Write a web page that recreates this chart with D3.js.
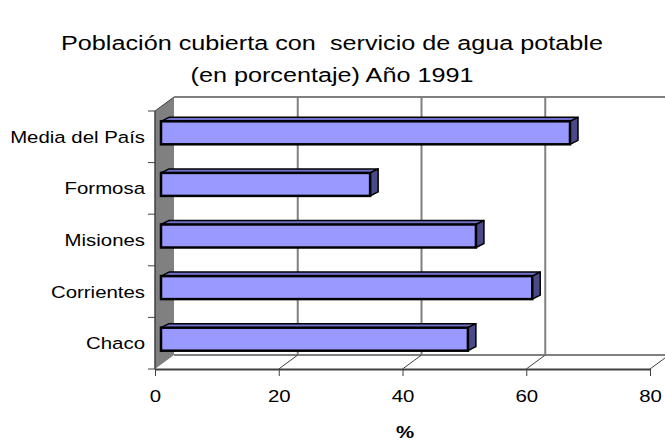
<!DOCTYPE html>
<html lang="es">
  <head>
    <meta charset="utf-8">
    <title>Agua potable 1991</title>
    <style>
      body { margin: 0; background: #fff; }
      text { font-family: Arial, "Liberation Sans", sans-serif; fill: #000; }
    </style>
  </head>
  <body>
  <script src="https://d3js.org/d3.v7.min.js"></script>

  <svg width="665" height="447"></svg>

  <script type="text/javascript">

    // data
    var categories = ["Media del País", "Formosa", "Misiones", "Corrientes", "Chaco"];
    var values = [66.1, 33.8, 50.9, 60.0, 49.6];
    var xTicks = [0, 20, 40, 60, 80];
    var titleLines = ["Población cubierta con  servicio de agua potable", "(en porcentaje) Año 1991"];
    var xLabel = "%";

    var svg = d3.select("svg");

    // the source picture is a bit wider than tall, text looks stretched
    var stretch = 1.2;

    // front plane of the 3d box
    var pLeft = 155, pRight = 650, pTop = 111, pBottom = 369;
    var depth = [19, -14];          // wall depth
    var barOff = [6, -4];           // bar front face offset from front plane
    var barDepth = [8, -4];         // bar thickness in depth

    var x = d3.scaleLinear().domain([0, 80]).range([pLeft, pRight]);
    var y = d3.scaleBand().domain(categories).range([pTop, pBottom]);

    // title
    svg.append("g").selectAll("text")
      .data(titleLines)
      .enter().append("text")
      .attr("transform", function(d, i) {
        return "translate(332," + (50 + i * 32) + ") scale(" + stretch + ",1)";
      })
      .attr("text-anchor", "middle")
      .style("font-size", "21px")
      .style("white-space", "pre")
      .text(function(d) { return d; });

    var g = svg.append("g");

    // left wall (grey)
    g.append("path")
      .attr("d", "M" + pLeft + "," + pTop +
                 "L" + (pLeft + depth[0]) + "," + (pTop + depth[1]) +
                 "L" + (pLeft + depth[0]) + "," + (pBottom + depth[1]) +
                 "L" + pLeft + "," + pBottom + "Z")
      .attr("fill", "#808080");

    // back wall top edge
    g.append("line")
      .attr("x1", pLeft + depth[0]).attr("y1", pTop + depth[1])
      .attr("x2", x(80) + depth[0]).attr("y2", pTop + depth[1])
      .attr("stroke", "#808080").attr("stroke-width", 2);

    // back floor edge
    g.append("line")
      .attr("x1", pLeft + depth[0]).attr("y1", pBottom + depth[1])
      .attr("x2", x(80) + depth[0]).attr("y2", pBottom + depth[1])
      .attr("stroke", "#808080").attr("stroke-width", 2);

    // gridlines on back wall and floor
    var grid = g.selectAll(".grid")
      .data(xTicks.filter(function(d) { return d > 0; }))
      .enter().append("g");

    grid.append("line")
      .attr("x1", function(d) { return x(d) + depth[0]; })
      .attr("x2", function(d) { return x(d) + depth[0]; })
      .attr("y1", pTop + depth[1])
      .attr("y2", pBottom + depth[1])
      .attr("stroke", "#808080").attr("stroke-width", 2);

    grid.append("line")
      .attr("x1", function(d) { return x(d); })
      .attr("y1", pBottom)
      .attr("x2", function(d) { return x(d) + depth[0]; })
      .attr("y2", pBottom + depth[1])
      .attr("stroke", "#404040").attr("stroke-width", 1);

    // left wall top diagonal
    g.append("line")
      .attr("x1", pLeft).attr("y1", pTop)
      .attr("x2", pLeft + depth[0]).attr("y2", pTop + depth[1])
      .attr("stroke", "#404040").attr("stroke-width", 1);

    // bars
    var bh = 23;
    var bars = g.selectAll(".bar")
      .data(categories)
      .enter().append("g");

    function fy(d) { return y(d) + y.bandwidth() / 2 - bh / 2 + barOff[1]; }
    function fx0() { return x(0) + barOff[0]; }
    function fx1(d, i) { return x(values[i]) + barOff[0]; }

    // top face
    bars.append("path")
      .attr("d", function(d, i) {
        var a = fx0(), b = fx1(d, i), t = fy(d);
        return "M" + a + "," + t + "L" + (a + barDepth[0]) + "," + (t + barDepth[1]) +
               "L" + (b + barDepth[0]) + "," + (t + barDepth[1]) + "L" + b + "," + t + "Z";
      })
      .attr("fill", "#7070cc").attr("stroke", "#000").attr("stroke-width", 1.5)
      .attr("stroke-linejoin", "round");

    // side face
    bars.append("path")
      .attr("d", function(d, i) {
        var b = fx1(d, i), t = fy(d);
        return "M" + b + "," + t + "L" + (b + barDepth[0]) + "," + (t + barDepth[1]) +
               "L" + (b + barDepth[0]) + "," + (t + bh + barDepth[1]) + "L" + b + "," + (t + bh) + "Z";
      })
      .attr("fill", "#4a4a88").attr("stroke", "#000").attr("stroke-width", 1.5)
      .attr("stroke-linejoin", "round");

    // front face
    bars.append("rect")
      .attr("x", fx0)
      .attr("y", fy)
      .attr("width", function(d, i) { return fx1(d, i) - fx0(); })
      .attr("height", bh)
      .attr("fill", "#9999ff").attr("stroke", "#000").attr("stroke-width", 2.5);

    // y axis: ticks at band edges, labels at band centres
    var ya = svg.append("g").attr("transform", "translate(" + pLeft + ",0)");
    ya.selectAll(".edge")
      .data(categories.concat(["_end"]))
      .enter().append("line")
      .attr("x1", -7).attr("x2", 0)
      .attr("y1", function(d) { return d === "_end" ? pBottom : y(d); })
      .attr("y2", function(d) { return d === "_end" ? pBottom : y(d); })
      .attr("stroke", "#404040");
    ya.append("line")
      .attr("x1", 0).attr("x2", 0).attr("y1", pTop).attr("y2", pBottom)
      .attr("stroke", "#404040").attr("stroke-width", 1.5);
    ya.selectAll(".lab")
      .data(categories)
      .enter().append("text")
      .attr("transform", function(d) {
        return "translate(-10," + (y(d) + y.bandwidth() / 2 + 6) + ") scale(" + stretch + ",1)";
      })
      .attr("text-anchor", "end")
      .style("font-size", "17px")
      .text(function(d) { return d; });

    // x axis
    var xAxis = d3.axisBottom(x).tickValues(xTicks).tickSize(7).tickSizeOuter(0).tickPadding(14);
    var xa = svg.append("g").attr("transform", "translate(0," + pBottom + ")").call(xAxis);
    xa.select(".domain").attr("stroke", "#404040").attr("stroke-width", 2);
    xa.selectAll(".tick line").attr("stroke", "#404040");
    xa.selectAll(".tick text")
      .attr("transform", "scale(" + stretch + ",1)")
      .style("font-size", "17px")
      .style("font-family", "Arial, 'Liberation Sans', sans-serif");

    svg.append("text")
      .attr("transform", "translate(405,438) scale(" + stretch + ",1)")
      .attr("text-anchor", "middle")
      .style("font-size", "17px")
      .style("font-weight", "bold")
      .text(xLabel);

  </script>
  </body>
</html>
